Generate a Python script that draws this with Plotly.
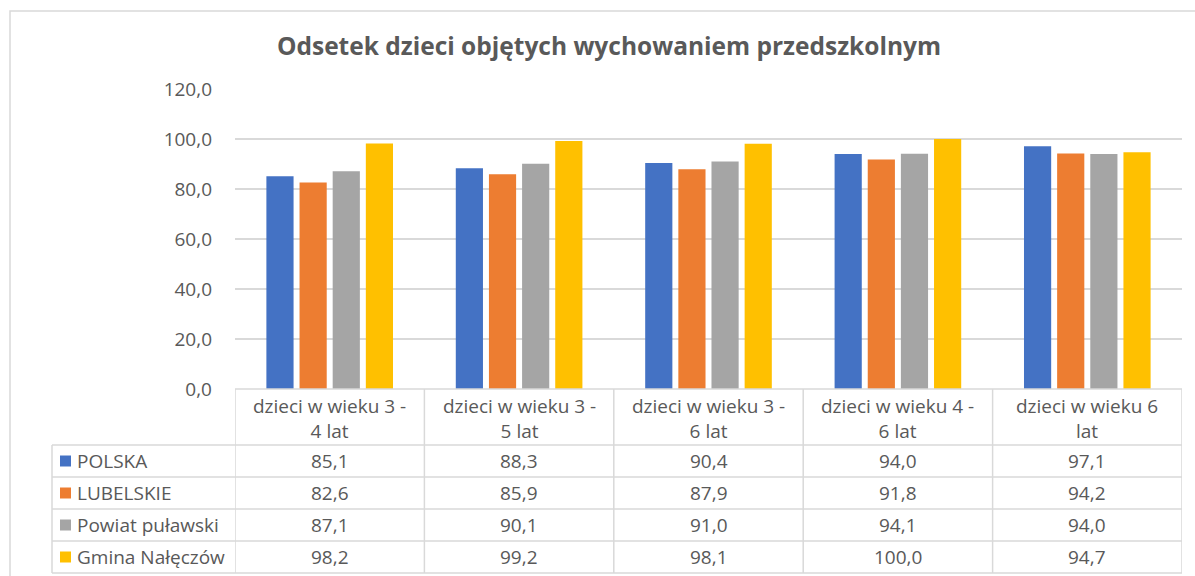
import plotly.graph_objects as go

categories = ["dzieci w wieku 3 -<br>4 lat", "dzieci w wieku 3 -<br>5 lat", "dzieci w wieku 3 -<br>6 lat",
              "dzieci w wieku 4 -<br>6 lat", "dzieci w wieku 6<br>lat"]
series_names = ["POLSKA", "LUBELSKIE", "Powiat puławski", "Gmina Nałęczów"]
polska = [85.1, 88.3, 90.4, 94.0, 97.1]
lubelskie = [82.6, 85.9, 87.9, 91.8, 94.2]
powiat = [87.1, 90.1, 91.0, 94.1, 94.0]
gmina = [98.2, 99.2, 98.1, 100.0, 94.7]
colors = ["#4472C4", "#ED7D31", "#A5A5A5", "#FFC000"]
y_ticks = [0, 20, 40, 60, 80, 100, 120]
title = "Odsetek dzieci objętych wychowaniem przedszkolnym"

series = [polska, lubelskie, powiat, gmina]
FONT = "Open Sans"
TXT = "#595959"
LINE = "#D9D9D9"
TFS = 19

W, H = 1195, 576
L, R, T, B = 235, 13, 89, 187
PW, PH = W - L - R, H - T - B
x_idx = list(range(len(categories)))

def py(pix):  # pixel y -> paper y
    return (H - B - pix) / PH

def px(pix):  # pixel x -> paper x
    return (pix - L) / PW

fig = go.Figure()
for name, vals, c in zip(series_names, series, colors):
    fig.add_trace(go.Bar(x=x_idx, y=vals, name=name, marker=dict(color=c, line=dict(width=0)),
                         showlegend=False, hoverinfo="y+name"))

shapes = []
ann = []
shapes.append(dict(type="rect", xref="paper", yref="paper", x0=px(10), x1=px(1210), y0=py(11), y1=py(590),
                   line=dict(color=LINE, width=1.5), layer="below"))
header_top, header_bot = 389, 445
row_bounds = [445, 477, 509, 541, 573]
left_x = 52
shapes.append(dict(type="line", xref="x", yref="paper", x0=-0.5, x1=len(categories) - 0.5,
                   y0=py(header_top), y1=py(header_top), line=dict(color=LINE, width=1.5)))
for rb in row_bounds:
    shapes.append(dict(type="line", xref="paper", yref="paper", x0=px(left_x), x1=1,
                       y0=py(rb), y1=py(rb), line=dict(color=LINE, width=1.5)))
for i in range(len(categories) + 1):
    shapes.append(dict(type="line", xref="x", yref="paper", x0=i - 0.5, x1=i - 0.5,
                       y0=py(header_top), y1=py(row_bounds[-1]), line=dict(color=LINE, width=1.5)))
shapes.append(dict(type="line", xref="paper", yref="paper", x0=px(left_x), x1=px(left_x),
                   y0=py(row_bounds[0]), y1=py(row_bounds[-1]), line=dict(color=LINE, width=1.5)))

for i, cat in enumerate(categories):
    ann.append(dict(x=i, xref="x", y=py((header_top + header_bot) / 2 + 1), yref="paper", text=cat,
                    showarrow=False, font=dict(family=FONT, size=TFS, color=TXT), align="center",
                    xanchor="center", yanchor="middle"))
for r, (name, vals, c) in enumerate(zip(series_names, series, colors)):
    ymid = (row_bounds[r] + row_bounds[r + 1]) / 2
    shapes.append(dict(type="rect", xref="paper", yref="paper", x0=px(60), x1=px(71),
                       y0=py(ymid - 5.5), y1=py(ymid + 5.5), fillcolor=c, line=dict(width=0)))
    ann.append(dict(x=px(75), xref="paper", y=py(ymid), yref="paper", text=name, showarrow=False,
                    font=dict(family=FONT, size=TFS, color=TXT), xanchor="left", yanchor="middle"))
    for i, v in enumerate(vals):
        ann.append(dict(x=i, xref="x", y=py(ymid), yref="paper", text=f"{v:.1f}".replace(".", ","),
                        showarrow=False, font=dict(family=FONT, size=TFS, color=TXT),
                        xanchor="center", yanchor="middle"))

fig.update_layout(
    width=W, height=H,
    margin=dict(l=L, r=R, t=T, b=B),
    paper_bgcolor="white", plot_bgcolor="white",
    separators=", ",
    barmode="group", bargap=0.30, bargroupgap=0.18,
    title=dict(text="<b>" + title + "</b>", x=609 / W, xref="container", xanchor="center",
               y=1 - 46 / H, yanchor="middle", font=dict(family=FONT, size=24.5, color=TXT)),
    xaxis=dict(range=[-0.5, len(categories) - 0.5], showticklabels=False, showgrid=False,
               zeroline=False, showline=False, fixedrange=True),
    yaxis=dict(range=[0, 120], tickvals=y_ticks, tickformat=".1f", showgrid=True, gridcolor=LINE,
               gridwidth=1.5, zeroline=False, showline=False,
               tickfont=dict(family=FONT, size=19, color=TXT), ticklabelstandoff=22),
    shapes=shapes, annotations=ann,
)
fig.write_html("out.html", config={"displayModeBar": False},
               post_script="document.body.style.margin='0';")
